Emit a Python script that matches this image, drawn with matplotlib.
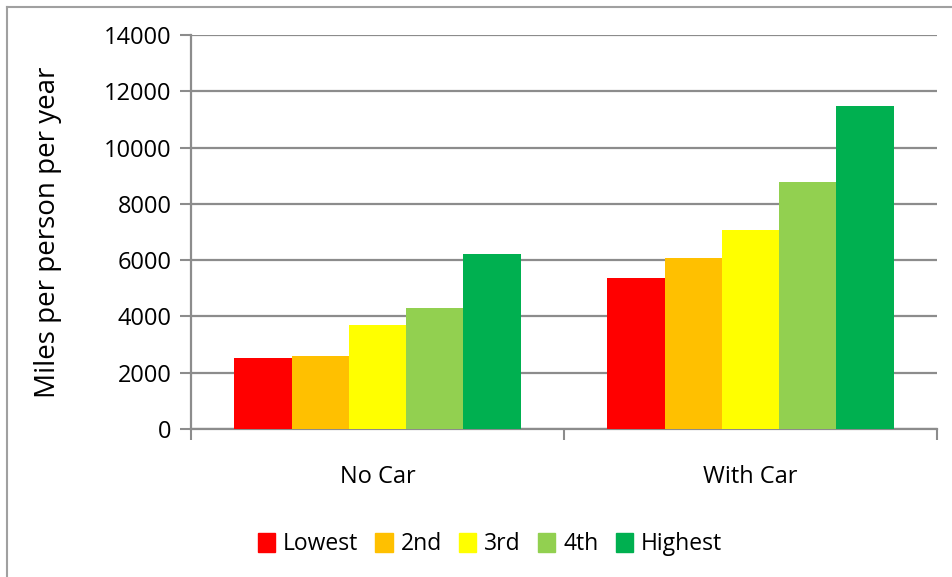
import matplotlib
matplotlib.use("Agg")
import matplotlib.pyplot as plt
import numpy as np
from matplotlib.patches import Rectangle
from matplotlib.lines import Line2D

categories = ["No Car", "With Car"]
series_names = ["Lowest", "2nd", "3rd", "4th", "Highest"]
lowest = [2530, 5350]
second = [2600, 6060]
third = [3680, 7060]
fourth = [4310, 8770]
highest = [6220, 11490]
values = [lowest, second, third, fourth, highest]
colors = ["#FF0000", "#FFC000", "#FFFF00", "#92D050", "#00B050"]
yticks = [0, 2000, 4000, 6000, 8000, 10000, 12000, 14000]

plt.rcParams['font.family'] = ['Open Sans', 'DejaVu Sans']

fig = plt.figure(figsize=(9.53, 5.77), dpi=100)
ax = fig.add_axes([191/953, 1-429/577, (937-191)/953, (429-35)/577])

grid_c = "#8C8C8C"
n = len(series_names)
group_w = 0.767
bw = group_w / n
x = np.arange(len(categories))
for i, (name, vals, c) in enumerate(zip(series_names, values, colors)):
    ax.bar(x - group_w/2 + bw*(i+0.5), vals, width=bw, color=c, label=name,
           edgecolor='none', zorder=3)

ax.set_xlim(-0.5, len(categories)-0.5)
ax.set_ylim(0, 14000)
ax.set_yticks(yticks)
ax.set_yticklabels([str(t) for t in yticks], fontsize=17)
ax.yaxis.grid(True, color=grid_c, linewidth=1.6, zorder=0)
ax.set_axisbelow(True)

ax.set_xticks(x)
ax.set_xticklabels(categories, fontsize=17)
ax.tick_params(axis='x', length=0, pad=26)
ax.set_xticks([-0.5, 0.5, 1.5], minor=True)
ax.tick_params(axis='x', which='minor', length=8, width=1.5, color=grid_c)
ax.tick_params(axis='y', length=8, width=1.5, color=grid_c, pad=6)

for s in ['top', 'right']:
    ax.spines[s].set_visible(False)
for s in ['left', 'bottom']:
    ax.spines[s].set_color(grid_c)
    ax.spines[s].set_linewidth(1.6)

ax.set_ylabel("Miles per person per year", fontsize=20, labelpad=30)

handles = [Rectangle((0, 0), 1, 1, color=c) for c in colors]
leg = fig.legend(handles, series_names, loc='center', bbox_to_anchor=(490/953, 1-544/577),
                 ncol=5, frameon=False, fontsize=16.5, handlelength=0.75, handleheight=0.9,
                 handletextpad=0.35, columnspacing=0.75)

# outer chart border
fig.add_artist(Line2D([7/953, 7/953], [0, 1-7/577], color="#A0A0A0", linewidth=1.5,
                      transform=fig.transFigure))
fig.add_artist(Line2D([7/953, 1], [1-7/577, 1-7/577], color="#A0A0A0", linewidth=1.5,
                      transform=fig.transFigure))

fig.savefig("out.png", dpi=100)
